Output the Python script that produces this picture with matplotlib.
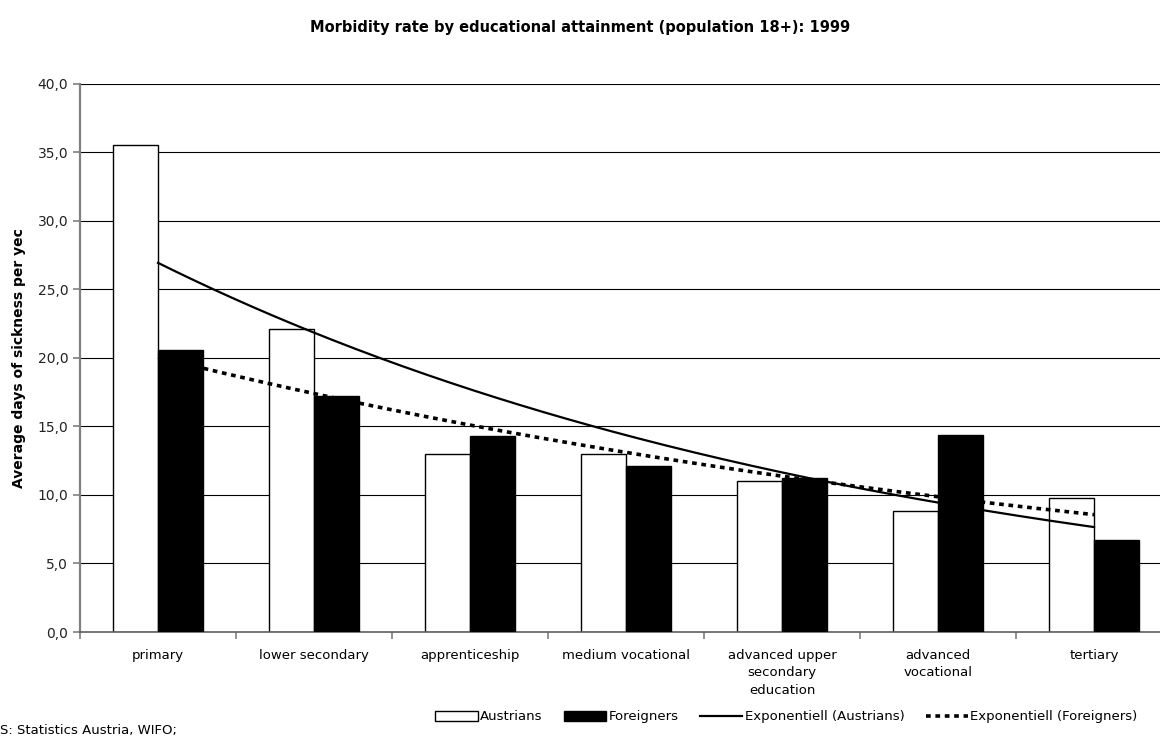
import matplotlib.pyplot as plt
from matplotlib.patches import Patch
from matplotlib.lines import Line2D
from matplotlib.ticker import FuncFormatter
import numpy as np

plt.rcParams['font.family'] = ['DejaVu Sans']

# data
categories = ['primary', 'lower secondary', 'apprenticeship', 'medium vocational',
              'advanced upper\nsecondary\neducation', 'advanced\nvocational', 'tertiary']
austrians = [35.5, 22.1, 13.0, 13.0, 11.0, 8.8, 9.8]
foreigners = [20.6, 17.2, 14.3, 12.1, 11.2, 14.4, 6.7]

x = np.arange(len(categories))
w = 0.288

# exponential trend lines (like Excel's "Exponentiell" trendline), drawn as smooth curves
xs = np.linspace(0, len(categories) - 1, 200)

def exp_trend(vals):
    k = np.arange(len(vals))
    b, a = np.polyfit(k, np.log(vals), 1)
    return np.exp(a + b * xs)

trend_a = exp_trend(austrians)
trend_f = exp_trend(foreigners)

fig = plt.figure(figsize=(11.6, 7.36), dpi=100)
ax = fig.add_axes([0.0690, 0.1413, 0.9414, 0.745])

ax.bar(x - w / 2, austrians, w, color='white', edgecolor='black', linewidth=1.0, zorder=2)
ax.plot(xs, trend_a, color='black', linewidth=1.6, zorder=3)
ax.plot(xs, trend_f, color='black', linewidth=2.6, linestyle=(0, (1.3, 1.3)), zorder=3)
ax.bar(x + w / 2, foreigners, w, color='black', edgecolor='black', linewidth=1.0, zorder=4)

ax.set_xlim(-0.5, len(categories) - 0.5)
ax.set_ylim(0, 40)
ax.set_yticks(np.arange(0, 41, 5))
ax.yaxis.set_major_formatter(FuncFormatter(lambda v, p: f'{v:.1f}'.replace('.', ',')))
ax.yaxis.grid(True, color='black', linewidth=0.8, zorder=0)
ax.set_axisbelow(True)

ax.set_xticks(x)
ax.set_xticklabels(categories, fontsize=9.5, linespacing=1.45)
ax.set_xticks(np.arange(-0.5, len(categories), 1), minor=True)
ax.tick_params(axis='x', which='major', length=0, pad=12)
ax.tick_params(axis='x', which='minor', length=5, color='#808080', width=1.2)
ax.tick_params(axis='y', length=5, color='#808080', width=1.2, labelsize=10, labelcolor='#222222')

for s in ['top', 'right']:
    ax.spines[s].set_visible(False)
ax.spines['left'].set_color('#808080')
ax.spines['left'].set_linewidth(1.6)
ax.spines['bottom'].set_color('#606060')
ax.spines['bottom'].set_linewidth(1.2)

ax.set_ylabel('Average days of sickness per yec', fontsize=10, fontweight='bold', labelpad=8)

fig.text(0.5, 0.962, 'Morbidity rate by educational attainment (population 18+): 1999',
         ha='center', va='center', fontsize=10.5, fontweight='bold')

handles = [Patch(facecolor='white', edgecolor='black', linewidth=1.0),
           Patch(facecolor='black', edgecolor='black'),
           Line2D([], [], color='black', linewidth=1.6),
           Line2D([], [], color='black', linewidth=2.6, linestyle=(0, (1.3, 1.3)))]
labels = ['Austrians', 'Foreigners', 'Exponentiell (Austrians)', 'Exponentiell (Foreigners)']
fig.legend(handles, labels, loc='center', bbox_to_anchor=(0.678, 0.026), ncol=4,
           frameon=False, fontsize=9.5, handlelength=3.2, handletextpad=0.2,
           columnspacing=1.6, handleheight=0.8)

fig.text(0.0, 0.016, 'S: Statistics Austria, WIFO;', ha='left', va='top', fontsize=9.5)

fig.savefig('out.png', dpi=100)
